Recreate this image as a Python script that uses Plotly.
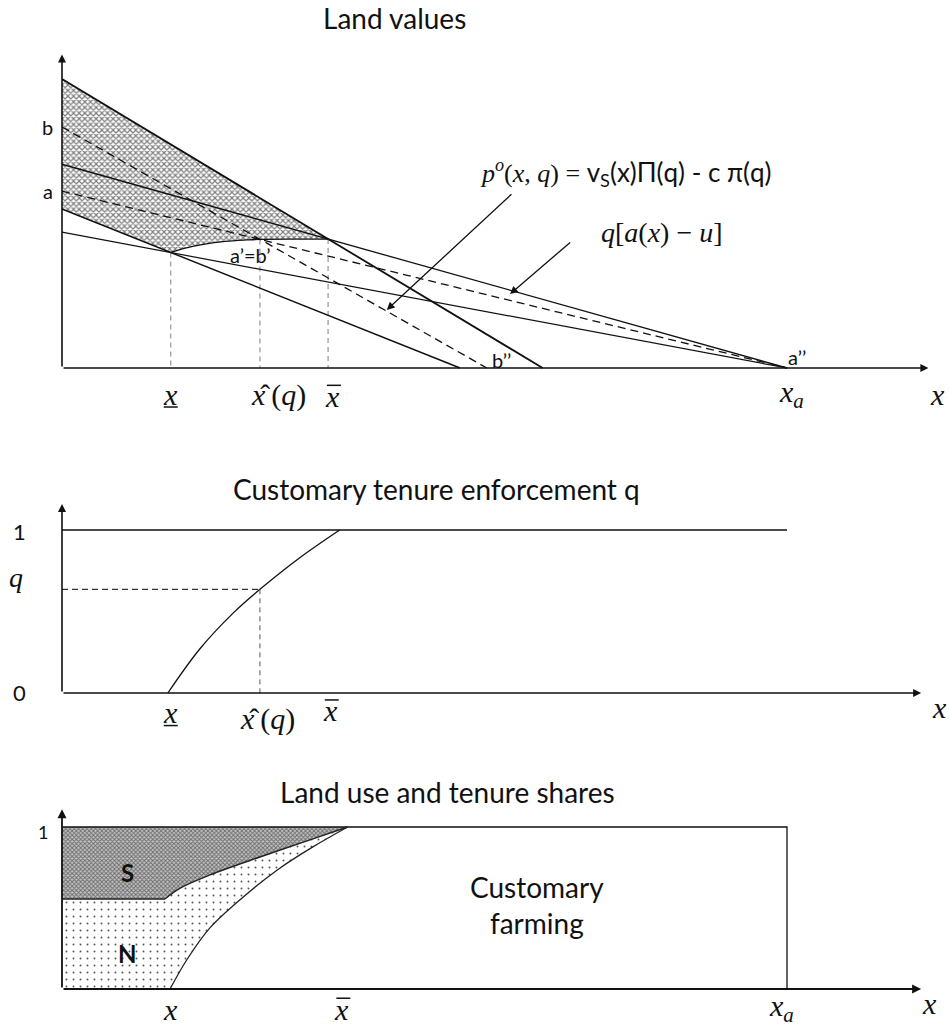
import numpy as np
import plotly.graph_objects as go

W, H = 949, 1029

# ---------------- data ----------------
# Panel 1 "Land values": straight lines given by value at x=0 and x-intercept
lv_intercept = [100.0, 83.4, 70.5, 61.2, 55.0, 47.0]
lv_xzero = [66.3, 58.6, 100.0, 100.0, 54.9, 100.0]
# lower boundary of the shaded area (from x_low to x_bar)
lv_bound_x = [15.0, 17.0, 19.5, 22.5, 25.5, 27.3, 32.0, 36.7]
lv_bound_y = [40.0, 41.5, 42.8, 43.8, 44.3, 44.5, 44.6, 44.6]
lv_marks = [15.0, 27.3, 36.7, 100.0]          # x_low, x_hat, x_bar, x_a

# Panel 2 "Customary tenure enforcement q"
q_x = [14.6, 19.0, 23.6, 27.3, 32.8, 38.3]
q_y = [0.0, 0.27, 0.49, 0.636, 0.83, 1.0]
q_hat = 0.636
q_marks = [15.0, 27.3, 37.0]
q_line_end = 100.0

# Panel 3 "Land use and tenure shares"
s_x = [14.2, 16.3, 20.4, 27.3, 34.2, 39.4]
s_y = [0.556, 0.623, 0.704, 0.815, 0.920, 1.0]
n_x = [14.9, 17.2, 20.4, 25.0, 29.7, 34.6, 39.4]
n_y = [0.0, 0.179, 0.377, 0.568, 0.735, 0.877, 1.0]
sh_marks = [15.0, 38.6, 100.0]

# ---------------- styles ----------------
lv_dash = ["solid", "8px,5px", "solid", "8px,5px", "solid", "solid"]
lv_width = [1.8, 1.3, 1.3, 1.3, 1.5, 1.2]
SANS = "Lato, Open Sans, sans-serif"
SERIF = "Liberation Serif, DejaVu Serif, serif"
BLACK = "#111111"

fig = go.Figure()


def f_line(i, x):
    return lv_intercept[i] * (1 - np.asarray(x, dtype=float) / lv_xzero[i])


# ---- panel 1 shaded region
xb = lv_marks[2]
poly_x = [0, xb] + lv_bound_x[::-1] + [0]
poly_y = [float(f_line(0, 0)), float(f_line(0, xb))] + lv_bound_y[::-1] + [float(f_line(4, 0))]
fig.add_trace(go.Scatter(
    x=poly_x, y=poly_y, fill="toself", mode="lines", line=dict(width=0),
    fillcolor="rgba(0,0,0,0)",
    fillpattern=dict(shape="x", size=4, solidity=0.5, fgcolor="#7d7d7d", bgcolor="#ffffff", fillmode="replace"),
    xaxis="x", yaxis="y", hoverinfo="skip"))

# vertical grey dashed guides
guide_y = [lv_bound_y[0], lv_bound_y[5], lv_bound_y[-1]]
for xm, ym in zip(lv_marks[:3], guide_y):
    fig.add_trace(go.Scatter(x=[xm, xm], y=[ym, 0], mode="lines",
                             line=dict(color="#8c8c8c", width=1.1, dash="5px,4px"),
                             xaxis="x", yaxis="y", hoverinfo="skip"))

# straight lines
for i in range(len(lv_intercept)):
    xs = [0, lv_xzero[i]]
    fig.add_trace(go.Scatter(x=xs, y=list(f_line(i, xs)), mode="lines",
                             line=dict(color=BLACK, width=lv_width[i], dash=lv_dash[i]),
                             xaxis="x", yaxis="y", hoverinfo="skip"))
# lower boundary curve
fig.add_trace(go.Scatter(x=lv_bound_x, y=lv_bound_y, mode="lines",
                         line=dict(color=BLACK, width=1.3, shape="spline"),
                         xaxis="x", yaxis="y", hoverinfo="skip"))

# ---- panel 2
fig.add_trace(go.Scatter(x=[0, q_line_end], y=[1, 1], mode="lines",
                         line=dict(color=BLACK, width=1.3), xaxis="x2", yaxis="y2", hoverinfo="skip"))
fig.add_trace(go.Scatter(x=q_x, y=q_y, mode="lines",
                         line=dict(color=BLACK, width=1.3, shape="spline"), xaxis="x2", yaxis="y2", hoverinfo="skip"))
fig.add_trace(go.Scatter(x=[0, q_marks[1]], y=[q_hat, q_hat], mode="lines",
                         line=dict(color="#333333", width=1.2, dash="6px,4px"), xaxis="x2", yaxis="y2", hoverinfo="skip"))
fig.add_trace(go.Scatter(x=[q_marks[1], q_marks[1]], y=[q_hat, 0], mode="lines",
                         line=dict(color="#555555", width=1.0, dash="5px,4px"), xaxis="x2", yaxis="y2", hoverinfo="skip"))

# ---- panel 3
s_level = s_y[0]
S_x = [0, s_x[-1]] + s_x[::-1] + [0]
S_y = [1, 1] + s_y[::-1] + [s_level]
fig.add_trace(go.Scatter(
    x=S_x, y=S_y, fill="toself", mode="lines", line=dict(width=0),
    fillcolor="rgba(0,0,0,0)",
    fillpattern=dict(shape="x", size=3, solidity=0.5, fgcolor="#6a6a6a", bgcolor="#c2c2c2", fillmode="replace"),
    xaxis="x3", yaxis="y3", hoverinfo="skip"))
N_x = [0] + s_x + n_x[::-1] + [0]
N_y = [s_level] + s_y + n_y[::-1] + [0]
fig.add_trace(go.Scatter(
    x=N_x, y=N_y, fill="toself", mode="lines", line=dict(width=0),
    fillcolor="rgba(0,0,0,0)",
    fillpattern=dict(shape=".", size=7, solidity=0.06, fgcolor="#555555", bgcolor="#ffffff", fillmode="replace"),
    xaxis="x3", yaxis="y3", hoverinfo="skip"))
fig.add_trace(go.Scatter(x=[0, sh_marks[2], sh_marks[2]], y=[1, 1, 0], mode="lines",
                         line=dict(color=BLACK, width=1.3), xaxis="x3", yaxis="y3", hoverinfo="skip"))
fig.add_trace(go.Scatter(x=[0, s_x[0]], y=[s_level, s_level], mode="lines",
                         line=dict(color="#222222", width=1.4), xaxis="x3", yaxis="y3", hoverinfo="skip"))
fig.add_trace(go.Scatter(x=s_x, y=s_y, mode="lines",
                         line=dict(color="#222222", width=1.4, shape="spline"), xaxis="x3", yaxis="y3", hoverinfo="skip"))
fig.add_trace(go.Scatter(x=n_x, y=n_y, mode="lines",
                         line=dict(color="#222222", width=1.3, shape="spline"), xaxis="x3", yaxis="y3", hoverinfo="skip"))

# ---------------- axes / layout ----------------
X0_PX, PX_PER_X = 62.0, 7.25
xrange_ = [-X0_PX / PX_PER_X, (W - X0_PX) / PX_PER_X]
PPU = {"y": 2.89, "y2": 163.0, "y3": 162.0}


def yax(top_px, bot_px, zero_px, ppu):
    return dict(domain=[1 - bot_px / H, 1 - top_px / H],
                range=[(zero_px - bot_px) / ppu, (zero_px - top_px) / ppu],
                visible=False, fixedrange=True)


def xax(anchor):
    return dict(domain=[0, 1], range=xrange_, visible=False, fixedrange=True, anchor=anchor)


annotations = []
shapes = []


def arrow(xref, yref, x, y, ax, ay, width=1.4, size=1.0, head=2):
    annotations.append(dict(xref=xref, yref=yref, axref=xref, ayref=yref, x=x, y=y, ax=ax, ay=ay,
                            text="", showarrow=True, arrowhead=head, arrowsize=size,
                            arrowwidth=width, arrowcolor=BLACK, standoff=0, startstandoff=0))


def label(xref, yref, x, y, text, size=18, family=SANS, color=BLACK, xanchor="center", yanchor="middle"):
    annotations.append(dict(xref=xref, yref=yref, x=x, y=y, text=text, showarrow=False,
                            font=dict(family=family, size=size, color=color),
                            xanchor=xanchor, yanchor=yanchor))


def bar(xref, yref, x, y, dy_px, dx_px=0.0, half_px=7.0):
    """short horizontal stroke (under/over-bar) near a label, offsets in pixels"""
    ppu = PPU[yref]
    yy = y + dy_px / ppu
    shapes.append(dict(type="line", xref=xref, yref=yref,
                       x0=x + (dx_px - half_px) / PX_PER_X, x1=x + (dx_px + half_px) / PX_PER_X,
                       y0=yy, y1=yy, line=dict(color=BLACK, width=1.5)))


# panel axes with arrow heads
arrow("x", "y", 119.5, 0, 0, 0, width=1.6)
arrow("x", "y", 0, 108.5, 0, 0, width=1.6)
arrow("x2", "y2", 118.5, 0, 0, 0, width=1.6)
arrow("x2", "y2", 0, 1.16, 0, 0, width=1.6)
arrow("x3", "y3", 118.5, 0, 0, 0, width=1.8)
arrow("x3", "y3", 0, 1.11, 0, 0, width=1.8)

# pointer arrows in panel 1
arrow("x", "y", 44.8, 20.1, 62.2, 60.6, width=1.3, size=1.2)
arrow("x", "y", 61.8, 25.6, 70.3, 43.9, width=1.3, size=1.2)

# titles
label("paper", "paper", 394 / W, 1 - 18 / H, "Land values", size=28)
label("paper", "paper", 436 / W, 1 - 489 / H, "Customary tenure enforcement q", size=28)
label("paper", "paper", 447 / W, 1 - 792 / H, "Land use and tenure shares", size=28)

XS = 30
XH = "<i>x</i>\u0302\u2009(<i>q</i>)"
XA = "<i>x<sub>a</sub></i>"

# panel 1 labels
label("x", "y", -2.0, lv_intercept[1], "b", size=20)
label("x", "y", -2.0, lv_intercept[3], "a", size=20)
label("x", "y", 26.0, 39.0, "a\u2019=b\u2019", size=20)
label("x", "y", 60.6, 2.6, "b\u2019\u2019", size=20)
label("x", "y", 101.4, 3.8, "a\u2019\u2019", size=20)
label("x", "y", 77.8, 67.6,
      "<i>p<sup>o</sup></i>(<i>x</i>, <i>q</i>) = <span style='font-family:Lato'>v<sub>S</sub>(x)\u03a0(q) - c \u03c0(q)</span>",
      size=26, family=SERIF)
label("x", "y", 82.8, 46.8, "<i>q</i>[<i>a</i>(<i>x</i>) \u2212 <i>u</i>]", size=28, family=SERIF)
ly1 = -9.0
label("x", "y", lv_marks[0], ly1, "<i>x</i>", size=XS, family=SERIF)
bar("x", "y", lv_marks[0], ly1, -13)
label("x", "y", 29.9, ly1 - 0.5, XH, size=XS, family=SERIF)
label("x", "y", lv_marks[2] + 0.6, ly1 - 0.8, "<i>x</i>", size=XS, family=SERIF)
bar("x", "y", lv_marks[2] + 0.6, ly1 - 0.8, 11, dx_px=1.5)
label("x", "y", 100.6, ly1, XA, size=XS, family=SERIF)
label("x", "y", 120.8, ly1, "<i>x</i>", size=XS, family=SERIF)

# panel 2 labels
label("x2", "y2", -5.8, 0.99, "1", size=22)
label("x2", "y2", -6.3, 0.71, "<i>q</i>", size=28, family=SERIF)
label("x2", "y2", -5.8, 0.005, "0", size=22)
ly2 = -0.12
label("x2", "y2", q_marks[0], ly2, "<i>x</i>", size=XS, family=SERIF)
bar("x2", "y2", q_marks[0], ly2, -13)
label("x2", "y2", 28.3, ly2 - 0.04, XH, size=XS, family=SERIF)
label("x2", "y2", q_marks[2], ly2 + 0.01, "<i>x</i>", size=XS, family=SERIF)
bar("x2", "y2", q_marks[2], ly2 + 0.01, 11, dx_px=1.5)
label("x2", "y2", 121.0, -0.09, "<i>x</i>", size=XS, family=SERIF)

# panel 3 labels
label("x3", "y3", -2.6, 0.97, "1", size=18)
label("x3", "y3", 9.1, 0.72, "<b>S</b>", size=24)
label("x3", "y3", 9.1, 0.22, "<b>N</b>", size=24)
label("x3", "y3", 65.5, 0.52, "Customary<br>farming", size=28)
ly3 = -0.125
label("x3", "y3", 14.9, ly3, "<i>x</i>", size=XS, family=SERIF)
label("x3", "y3", sh_marks[1], ly3, "<i>x</i>", size=XS, family=SERIF)
bar("x3", "y3", sh_marks[1], ly3, 11, dx_px=1.5)
label("x3", "y3", 99.3, ly3 + 0.01, XA, size=XS, family=SERIF)
label("x3", "y3", 119.7, -0.09, "<i>x</i>", size=XS, family=SERIF)

fig.update_layout(
    width=W, height=H, margin=dict(l=0, r=0, t=0, b=0),
    paper_bgcolor="white", plot_bgcolor="rgba(0,0,0,0)", showlegend=False,
    xaxis=xax("y"), xaxis2=xax("y2"), xaxis3=xax("y3"),
    yaxis=yax(0, 425, 368, 2.89),
    yaxis2=yax(470, 740, 693, 163),
    yaxis3=yax(780, 1029, 989, 162),
    annotations=annotations,
    shapes=shapes,
)

fig.write_html("out.html", config={"displayModeBar": False},
               post_script="document.body.style.margin='0';")
